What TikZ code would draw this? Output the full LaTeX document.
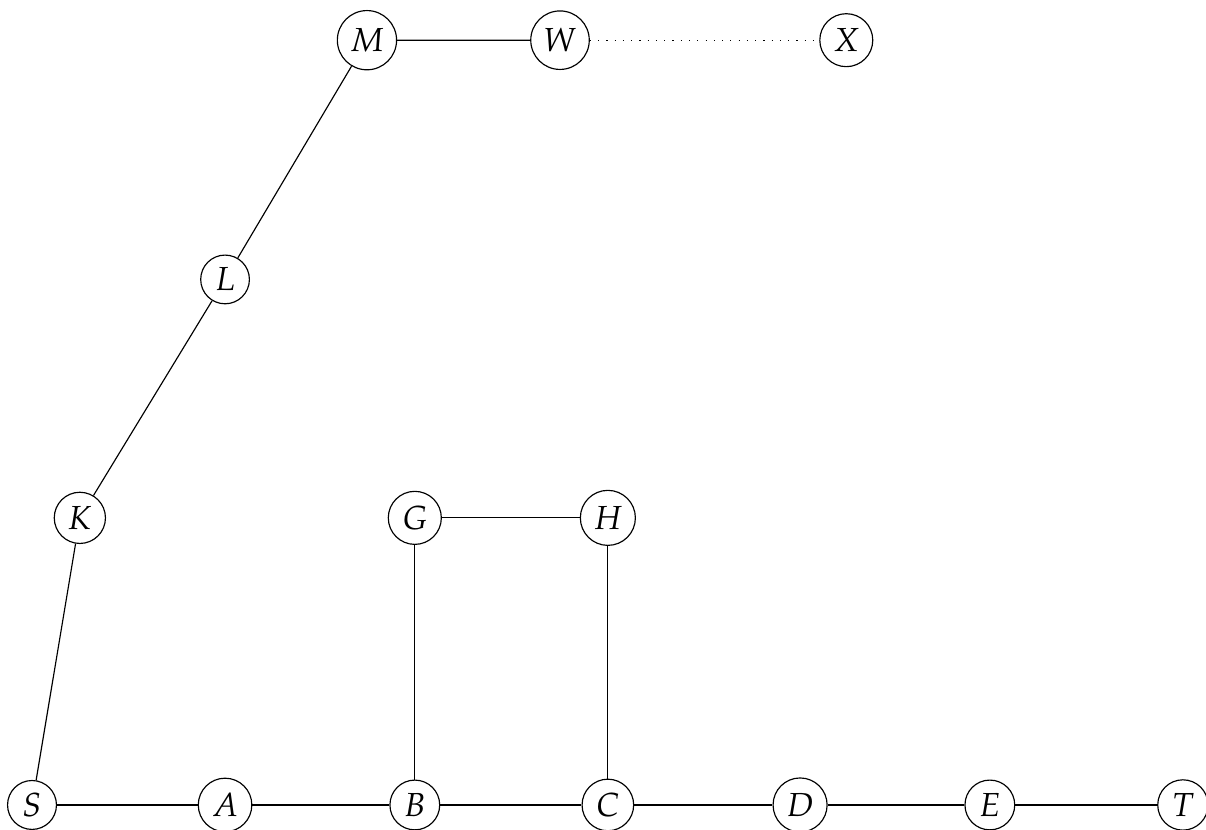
\documentclass[tikz,border=0pt]{standalone}
\usepackage{mathpazo}
\usepackage{tikz}

\begin{document}
\begin{tikzpicture}[vertex/.style={circle,draw,inner sep=2.2pt,font=\fontsize{11.5}{14}\selectfont}]
            \useasboundingbox (-0.388,-0.303) rectangle (14.23,9.757);
            \node[vertex] (S) at (0,0) {$S$};
            \node[vertex] (A) at (2.34,0) {$A$};
            \node[vertex] (B) at (4.64,0) {$B$};
            \node[vertex] (C) at (6.98,0) {$C$};
            \node[vertex] (D) at (9.31,0) {$D$};
            \node[vertex] (E) at (11.61,0) {$E$};
            \node[vertex] (T) at (13.95,0) {$T$};
            \node[vertex] (K) at (0.58,3.48) {$K$};
            \node[vertex] (G) at (4.64,3.48) {$G$};
            \node[vertex] (H) at (6.98,3.48) {$H$};
            \node[vertex] (L) at (2.34,6.37) {$L$};
            \node[vertex] (M) at (4.06,9.27) {$M$};
            \node[vertex] (W) at (6.40,9.27) {$W$};
            \node[vertex] (X) at (9.87,9.27) {$X$};
            \draw (S) -- (A) -- (B) -- (C) -- (D) -- (E) -- (T);
            \draw (S) -- (K) -- (L) -- (M) -- (W);
            \draw (B) -- (G) -- (H) -- (C);
            \draw[dash pattern=on 0.4pt off 2.45pt] (W) -- (X);
        \end{tikzpicture}
\end{document}
